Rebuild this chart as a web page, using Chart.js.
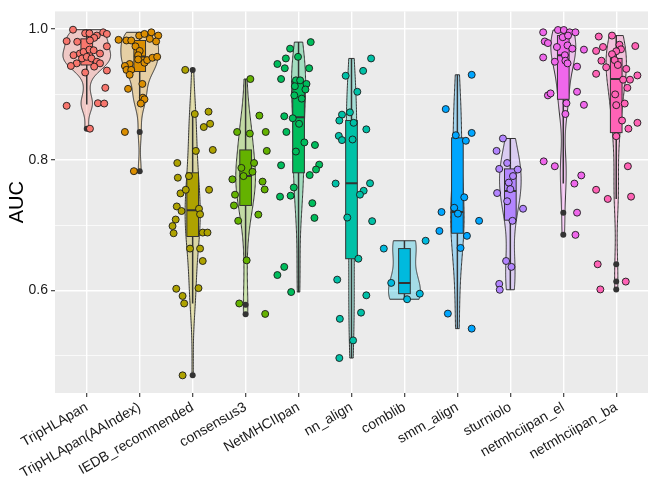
<!DOCTYPE html>
<html>
<head>
<meta charset="utf-8">
<script src="https://cdn.jsdelivr.net/npm/chart.js@4.4.0/dist/chart.umd.min.js"></script>
<style>
  html, body { margin: 0; padding: 0; background: #fff; }
  #wrap { width: 667px; height: 496px; }
</style>
</head>
<body>
<div id="wrap"><canvas id="chart"></canvas></div>
<script>
// methods (x axis)
const categories = ['TripHLApan', 'TripHLApan(AAIndex)', 'IEDB_recommended', 'consensus3', 'NetMHCIIpan',
  'nn_align', 'comblib', 'smm_align', 'sturniolo', 'netmhciipan_el', 'netmhciipan_ba'];
const colors = ['#F8766D', '#DB8E00', '#AEA200', '#64B200', '#00BD5C', '#00C1A7',
  '#00BADE', '#00A6FF', '#B385FF', '#EF67EB', '#FF63B6'];

// jittered points per method: [x jitter (category units), AUC]
const triphlapan = [[-0.26,0.999],[-0.03,0.9935],[0.05,0.9935],[0.19,0.99],[0.31,0.995],[0.38,0.9925],
  [-0.38,0.9815],[-0.18,0.9805],[0.14,0.9865],[0.06,0.9825],[0.38,0.9735],[-0.25,0.96],[-0.13,0.9625],
  [-0.06,0.965],[0.05,0.9685],[0.13,0.9675],[0.25,0.9625],[-0.09,0.955],[0.0,0.9575],[0.09,0.955],
  [0.19,0.95],[0.25,0.9475],[-0.19,0.9475],[-0.3,0.9435],[0.14,0.9425],[-0.03,0.9335],[0.38,0.9365],
  [0.35,0.91],[-0.38,0.8825],[0.21,0.8865],[0.33,0.886],[0.06,0.8475]];
const triphlapanAA = [[-0.40,0.9835],[-0.25,0.9825],[-0.16,0.9825],[-0.01,0.99],[0.09,0.9925],[0.22,0.995],
  [0.35,0.99],[0.31,0.981],[0.19,0.985],[-0.08,0.9735],[0.0,0.9665],[-0.03,0.96],[-0.03,0.9535],
  [-0.19,0.9465],[-0.28,0.9435],[-0.25,0.9375],[-0.16,0.9375],[-0.19,0.93],[0.09,0.9485],[0.14,0.9525],
  [0.24,0.956],[0.33,0.9575],[0.05,0.916],[-0.22,0.9085],[0.06,0.895],[0.09,0.8925],[0.02,0.886],
  [-0.28,0.8425],[-0.11,0.7825]];
const iedb = [[-0.14,0.9375],[0.04,0.87],[0.30,0.8735],[0.21,0.85],[0.33,0.855],[0.06,0.8135],[0.38,0.815],
  [-0.29,0.795],[-0.28,0.7725],[-0.07,0.775],[-0.23,0.7485],[-0.13,0.754],[0.31,0.754],[-0.30,0.7285],
  [-0.21,0.7215],[0.12,0.725],[0.14,0.7165],[-0.32,0.7085],[-0.38,0.6985],[-0.36,0.6875],[0.19,0.6885],
  [0.28,0.6885],[-0.05,0.664],[0.14,0.664],[0.19,0.645],[-0.31,0.6025],[0.11,0.6035],[-0.19,0.5915],
  [-0.16,0.58],[-0.19,0.47]];
const consensus3 = [[0.09,0.9235],[0.26,0.8675],[-0.16,0.8425],[0.08,0.84],[0.38,0.8425],[0.40,0.8135],
  [-0.08,0.7875],[0.16,0.795],[0.13,0.7815],[-0.04,0.775],[-0.25,0.77],[0.32,0.7665],[0.36,0.7545],
  [-0.20,0.7465],[-0.22,0.73],[0.24,0.716],[-0.14,0.7065],[0.02,0.646],[-0.12,0.58],[0.37,0.564]];
const netmhciipan = [[0.23,0.98],[-0.16,0.97],[-0.01,0.9575],[-0.24,0.955],[-0.40,0.9465],[-0.26,0.94],
  [0.20,0.94],[-0.33,0.9235],[-0.05,0.9215],[0.03,0.9215],[0.15,0.916],[-0.07,0.9125],[0.13,0.9075],
  [-0.08,0.8985],[0.06,0.8935],[-0.27,0.8665],[-0.11,0.8635],[-0.23,0.8425],[0.01,0.855],[0.11,0.8265],
  [0.31,0.8225],[-0.05,0.8125],[-0.33,0.7915],[0.39,0.7925],[0.33,0.785],[0.21,0.7765],[-0.09,0.7575],
  [-0.35,0.7435],[-0.15,0.745],[0.26,0.7335],[0.30,0.711],[-0.27,0.636],[-0.40,0.6235],[-0.14,0.5975]];
const nnAlign = [[0.37,0.955],[0.22,0.936],[-0.11,0.9285],[0.11,0.904],[-0.18,0.869],[-0.03,0.8725],
  [-0.23,0.86],[0.04,0.8565],[0.28,0.8465],[-0.24,0.8365],[-0.18,0.83],[0.02,0.831],[-0.30,0.7635],
  [0.35,0.764],[0.23,0.7525],[0.16,0.7465],[-0.08,0.7115],[0.39,0.706],[0.13,0.6485],[-0.27,0.6165],
  [0.28,0.5925],[0.18,0.566],[-0.22,0.5565],[0.03,0.5235],[-0.23,0.4965]];
const comblib = [[-0.39,0.664],[0.40,0.676],[-0.25,0.6115],[0.05,0.5865],[0.29,0.595]];
const smmAlign = [[0.27,0.93],[-0.22,0.8775],[-0.03,0.8375],[0.27,0.841],[0.16,0.829],[0.13,0.7425],
  [-0.06,0.7265],[-0.30,0.72],[0.01,0.7175],[0.41,0.7065],[-0.34,0.691],[0.18,0.6835],[0.06,0.665],
  [-0.18,0.5645],[0.27,0.5415]];
const sturniolo = [[-0.14,0.8325],[-0.26,0.8135],[-0.06,0.795],[-0.21,0.786],[0.14,0.785],[0.05,0.775],
  [-0.03,0.765],[0.0,0.755],[-0.25,0.749],[-0.06,0.7365],[0.24,0.725],[0.04,0.7065],[-0.08,0.645],
  [0.02,0.636],[-0.21,0.61],[-0.20,0.601]];
const netmhciipanEl = [[-0.38,0.995],[-0.10,0.9985],[0.01,0.9985],[0.12,0.995],[0.23,0.995],[-0.35,0.981],
  [-0.29,0.9785],[-0.12,0.9725],[0.08,0.975],[0.17,0.97],[0.39,0.9685],[-0.38,0.9565],[0.03,0.96],
  [-0.16,0.95],[0.04,0.9515],[0.08,0.9475],[0.26,0.9425],[-0.01,0.9875],[0.09,0.99],[0.26,0.904],
  [-0.29,0.8985],[-0.24,0.9015],[0.39,0.884],[0.06,0.8865],[0.04,0.87],[-0.37,0.7975],[-0.16,0.79],
  [0.34,0.776],[0.21,0.7635],[0.26,0.719],[0.23,0.685]];
const netmhciipanBa = [[-0.33,0.9885],[-0.08,0.99],[0.36,0.974],[-0.25,0.9725],[-0.38,0.9665],[0.06,0.976],
  [0.09,0.969],[0.0,0.966],[-0.08,0.9615],[-0.28,0.9515],[-0.19,0.9415],[-0.03,0.9525],[0.03,0.945],
  [0.19,0.939],[-0.38,0.9315],[0.40,0.929],[0.13,0.9225],[0.26,0.9225],[0.21,0.91],[-0.02,0.9],
  [0.0,0.8835],[0.16,0.886],[0.11,0.86],[0.40,0.8565],[0.23,0.8475],[0.0,0.836],[0.22,0.79],
  [-0.38,0.754],[-0.16,0.74],[0.28,0.7435],[-0.35,0.64],[0.18,0.6135],[-0.30,0.6015]];
const points = [triphlapan, triphlapanAA, iedb, consensus3, netmhciipan, nnAlign,
  comblib, smmAlign, sturniolo, netmhciipanEl, netmhciipanBa];

// box plot statistics per method
const boxQ1  = [0.945, 0.935, 0.6825, 0.730, 0.780, 0.6485, 0.595, 0.6875, 0.7075, 0.8925, 0.8415];
const boxMed = [0.966, 0.958, 0.7225, 0.775, 0.865, 0.764, 0.6115, 0.720, 0.752, 0.960, 0.9235];
const boxQ3  = [0.985, 0.9825, 0.780, 0.815, 0.920, 0.860, 0.664, 0.8335, 0.786, 0.990, 0.955];
const whiskLo = [0.8845, 0.886, 0.580, 0.646, 0.5975, 0.4965, 0.5865, 0.5415, 0.601, 0.7635, 0.740];
const whiskHi = [0.9995, 0.995, 0.8735, 0.9235, 0.980, 0.955, 0.676, 0.930, 0.8325, 0.9985, 0.990];
const outliers = [[0.8475], [0.8425, 0.7825], [0.9375, 0.47], [0.578, 0.5635], [], [], [], [], [],
  [0.719, 0.685], [0.64, 0.6135, 0.6015]];

// y axis
const yTicks = [0.6, 0.8, 1.0];

function rgba(hex, a) {
  const n = parseInt(hex.slice(1), 16);
  return `rgba(${n >> 16},${(n >> 8) & 255},${n & 255},${a})`;
}

// gaussian kernel density, bw.nrd0, trimmed to data range
function density(vals) {
  const n = vals.length;
  const s = [...vals].sort((a, b) => a - b);
  const mean = s.reduce((a, b) => a + b, 0) / n;
  const sd = Math.sqrt(s.reduce((a, b) => a + (b - mean) ** 2, 0) / (n - 1));
  const q = p => { const h = (n - 1) * p, lo = Math.floor(h); return s[lo] + (h - lo) * (s[Math.min(lo + 1, n - 1)] - s[lo]); };
  const bw = 0.9 * Math.min(sd, (q(0.75) - q(0.25)) / 1.34) * Math.pow(n, -0.2);
  const ys = [], ds = [];
  for (let k = 0; k <= 200; k++) {
    const y = s[0] + (s[n - 1] - s[0]) * k / 200;
    let d = 0;
    for (const v of s) { const u = (y - v) / bw; d += Math.exp(-0.5 * u * u); }
    ys.push(y);
    ds.push(d / (n * bw * Math.sqrt(2 * Math.PI)));
  }
  return { ys, ds };
}

const dens = points.map(p => density(p.map(d => d[1])));
const maxDens = Math.max(...dens.map(d => Math.max(...d.ds)));

const panelBg = {
  id: 'panelBg',
  beforeDraw(chart) {
    const { ctx, chartArea: a } = chart;
    ctx.save();
    ctx.fillStyle = '#EBEBEB';
    ctx.fillRect(a.left, a.top, a.right - a.left, a.bottom - a.top);
    ctx.restore();
  }
};

// violins + box plots, drawn below the jitter points
const violinBox = {
  id: 'violinBox',
  beforeDatasetsDraw(chart) {
    const { ctx, chartArea: a, scales: { x, y } } = chart;
    ctx.save();
    ctx.beginPath();
    ctx.rect(a.left, a.top, a.right - a.left, a.bottom - a.top);
    ctx.clip();
    const unit = x.getPixelForValue(2) - x.getPixelForValue(1);
    categories.forEach((c, i) => {
      const cx = x.getPixelForValue(i + 1);
      const { ys, ds } = dens[i];
      // violin
      ctx.beginPath();
      ys.forEach((v, k) => {
        const px = cx + ds[k] / maxDens * 0.45 * unit;
        k === 0 ? ctx.moveTo(px, y.getPixelForValue(v)) : ctx.lineTo(px, y.getPixelForValue(v));
      });
      for (let k = ys.length - 1; k >= 0; k--) {
        ctx.lineTo(cx - ds[k] / maxDens * 0.45 * unit, y.getPixelForValue(ys[k]));
      }
      ctx.closePath();
      ctx.fillStyle = rgba(colors[i], 0.3);
      ctx.fill();
      ctx.strokeStyle = '#333333';
      ctx.lineWidth = 1;
      ctx.stroke();

      // whiskers
      ctx.strokeStyle = '#333333';
      ctx.lineWidth = 1.5;
      ctx.beginPath();
      ctx.moveTo(cx, y.getPixelForValue(boxQ3[i]));
      ctx.lineTo(cx, y.getPixelForValue(whiskHi[i]));
      ctx.moveTo(cx, y.getPixelForValue(boxQ1[i]));
      ctx.lineTo(cx, y.getPixelForValue(whiskLo[i]));
      ctx.stroke();

      // box
      const hw = 0.11 * unit;
      const top = y.getPixelForValue(boxQ3[i]);
      const bot = y.getPixelForValue(boxQ1[i]);
      ctx.fillStyle = colors[i];
      ctx.fillRect(cx - hw, top, 2 * hw, bot - top);
      ctx.lineWidth = 1;
      ctx.strokeRect(cx - hw, top, 2 * hw, bot - top);
      ctx.lineWidth = 2;
      ctx.beginPath();
      const my = y.getPixelForValue(boxMed[i]);
      ctx.moveTo(cx - hw, my);
      ctx.lineTo(cx + hw, my);
      ctx.stroke();

      // outliers
      ctx.fillStyle = '#333333';
      outliers[i].forEach(v => {
        ctx.beginPath();
        ctx.arc(cx, y.getPixelForValue(v), 3, 0, Math.PI * 2);
        ctx.fill();
      });
    });
    ctx.restore();
  }
};

const datasets = points.map((p, i) => ({
  label: categories[i],
  data: p.map(d => ({ x: i + 1 + d[0], y: d[1] })),
  pointRadius: 3.5,
  pointBackgroundColor: colors[i],
  pointBorderColor: '#1a1a1a',
  pointBorderWidth: 0.9,
  pointHoverRadius: 3.5
}));

const isMajor = v => yTicks.some(t => Math.abs(t - v) < 1e-6);

new Chart(document.getElementById('chart'), {
  type: 'scatter',
  data: { datasets },
  options: {
    responsive: true,
    maintainAspectRatio: false,
    animation: false,
    events: [],
    layout: { padding: { top: 4, right: 19, left: 0, bottom: 0 } },
    plugins: { legend: { display: false }, tooltip: { enabled: false } },
    scales: {
      x: {
        type: 'linear',
        min: 0.4,
        max: 11.6,
        afterBuildTicks: s => { s.ticks = categories.map((c, i) => ({ value: i + 1 })); },
        afterFit: s => { s.height = 103; },
        border: { display: false },
        grid: { color: '#FFFFFF', lineWidth: 1.4, tickColor: '#333333', tickWidth: 1.1, tickLength: 4 },
        ticks: {
          autoSkip: false,
          minRotation: 30,
          maxRotation: 30,
          padding: 2,
          color: '#1a1a1a',
          font: { family: 'Liberation Sans, Arial, sans-serif', size: 14 },
          callback: v => categories[Math.round(v) - 1] || ''
        }
      },
      y: {
        min: 0.443,
        max: 1.027,
        afterFit: s => { s.width = 55; },
        border: { display: false },
        grid: {
          color: '#FFFFFF',
          lineWidth: c => isMajor(c.tick.value) ? 1.4 : 0.7,
          tickColor: c => isMajor(c.tick.value) ? '#333333' : 'rgba(0,0,0,0)',
          tickWidth: 1.1,
          tickLength: 4
        },
        title: {
          display: true,
          text: 'AUC',
          color: '#000000',
          font: { family: 'Liberation Sans, Arial, sans-serif', size: 20 },
          padding: { top: 5, bottom: 0 }
        },
        ticks: {
          stepSize: 0.1,
          includeBounds: false,
          padding: 3,
          color: '#1a1a1a',
          font: { family: 'Liberation Sans, Arial, sans-serif', size: 14 },
          callback: v => isMajor(v) ? v.toFixed(1) : ''
        }
      }
    }
  },
  plugins: [panelBg, violinBox]
});
</script>
</body>
</html>
